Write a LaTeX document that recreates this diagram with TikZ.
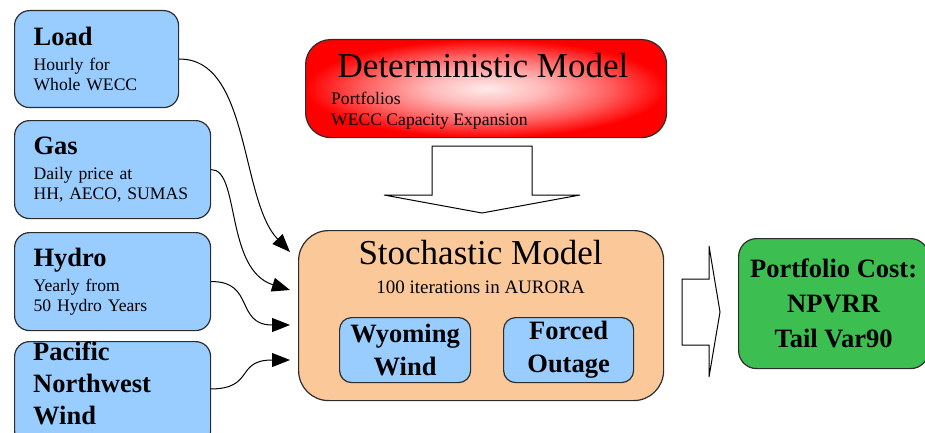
\documentclass[tikz,border=0pt]{standalone}
\usepackage{fontspec}
\setmainfont{Liberation Serif}
\usetikzlibrary{arrows.meta}

\definecolor{inblue}{RGB}{153,204,255}
\definecolor{stochorange}{RGB}{251,201,153}
\definecolor{costgreen}{RGB}{60,190,80}
\definecolor{edge}{RGB}{45,45,45}

\pgfdeclareradialshading{detshade}{\pgfpoint{0bp}{0bp}}{%
  color(0bp)=(red!8!white); color(8bp)=(red!28!white); color(17bp)=(red!62!white);
  color(25bp)=(red); color(50bp)=(red)}

\newcommand{\headfont}{\fontsize{26.5}{33}\selectfont\bfseries}
\newcommand{\smallfont}{\fontsize{17.6}{20}\selectfont}
\newcommand{\titlefont}{\fontsize{35}{40}\selectfont}

\tikzstyle{source} = [draw=edge, line width=1.2pt, fill=inblue, rounded corners=15pt, anchor=north west, align=left, inner xsep=19pt, inner ysep=2pt, font=\smallfont]
\tikzstyle{innerbox} = [draw=edge, line width=1.2pt, fill=inblue, rounded corners=12pt, anchor=north west, align=center, inner sep=2pt, font=\headfont]
\tikzstyle{model} = [draw=edge, line width=1.2pt, anchor=north west, inner sep=2pt]
\tikzstyle{feed} = [draw=black, line width=1pt, -{Triangle[length=18pt,width=14pt]}]
\tikzstyle{bigarrow} = [draw=black, line width=1pt, fill=white, line join=miter]

\begin{document}
\begin{tikzpicture}[x=1pt, y=-1pt]
  \path[use as bounding box, clip] (0,0) rectangle (925,433);

  % inputs
  \node[source, minimum width=164pt, minimum height=97pt, text width=126pt] (load) at (14,10) {{\headfont Load}\\[5pt]Hourly for\\Whole WECC};
  \node[source, minimum width=196pt, minimum height=98pt, text width=158pt] (gas) at (14,120) {{\headfont Gas}\\[5pt]Daily price at\\HH, AECO, SUMAS};
  \node[source, minimum width=196pt, minimum height=98pt, text width=158pt] (hydro) at (14,232) {{\headfont Hydro}\\[5pt]Yearly from\\50 Hydro Years};
  \node[source, minimum width=196pt, minimum height=104pt] (pnw) at (14,341) {};
  \node[font=\fontsize{26.5}{32}\selectfont\bfseries, align=left, text width=158pt, inner sep=0pt, anchor=base west] (pnwtext) at (33,360) {Pacific\\Northwest\\Wind};

  % models
  \node[model, rounded corners=25pt, minimum width=361pt, minimum height=98pt, shading=detshade] (detm) at (305,39) {};
  \node[font=\titlefont, anchor=base] (detmtitle) at (483,78) {Deterministic Model};
  \node[font=\fontsize{17.6}{21}\selectfont, align=left, anchor=north west, inner sep=0pt] (detmsub) at (331,91.5) {Portfolios\\WECC Capacity Expansion};

  \node[model, fill=stochorange, rounded corners=30pt, minimum width=365pt, minimum height=170pt] (stoch) at (298,230) {};
  \node[font=\titlefont, anchor=base] (stochtitle) at (480.5,264) {Stochastic Model};
  \node[font=\fontsize{19}{22}\selectfont, anchor=base] (stochsub) at (480.5,293) {100 iterations in AURORA};
  \node[innerbox, minimum width=131pt, minimum height=65pt] (wywind) at (339,317) {Wyoming\\Wind};
  \node[innerbox, minimum width=130pt, minimum height=65pt] (outage) at (503,317) {Forced\\Outage};

  \node[model, fill=costgreen, rounded corners=18pt, minimum width=190pt, minimum height=130pt, align=center, font=\fontsize{26.5}{35}\selectfont\bfseries] (cost) at (738,238) {Portfolio Cost:\\NPVRR\\Tail Var90};

  \coordinate (in1) at (290,252);
  \coordinate (in2) at (290,290);
  \coordinate (in3) at (290,325);
  \coordinate (in4) at (290,360);
  \coordinate (pnwout) at (210,389);

  \draw[feed] (load.east) .. controls (250,58) and (240,200) .. (in1);
  \draw[feed] (gas.east) .. controls (240,169) and (225,270) .. (in2);
  \draw[feed] (hydro.east) .. controls (255,281) and (235,325) .. (in3);
  \draw[feed] (pnwout) .. controls (255,389) and (235,360) .. (in4);

  % block arrows
  \coordinate (dtop) at (482,146);
  \coordinate (rtail) at (682,312);
  \draw[bigarrow] (dtop) ++(-50,0) -- ++(100,0) -- ++(0,49) -- ++(48,0) -- ++(-98,18) -- ++(-98,-18) -- ++(48,0) -- cycle;
  \draw[bigarrow] (rtail) ++(0,-33) -- ++(27,0) -- ++(0,-33) -- ++(11,66) -- ++(-11,65) -- ++(0,-32) -- ++(-27,0) -- cycle;
\end{tikzpicture}
\end{document}
